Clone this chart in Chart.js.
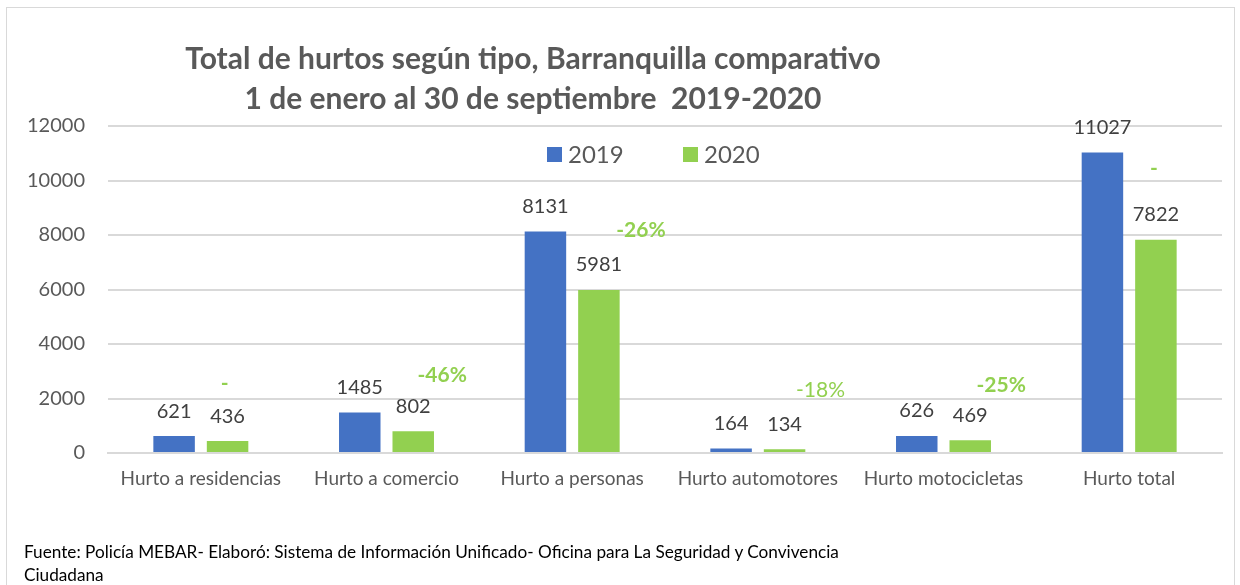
<!DOCTYPE html>
<html>
<head>
<meta charset="UTF-8">
<title>Hurtos Barranquilla</title>
<script src="https://cdn.jsdelivr.net/npm/chart.js"></script>
<style>
  html, body { margin: 0; padding: 0; background: #fff; }
  #box { position: absolute; left: 0; top: 0; width: 1240px; height: 585px; overflow: hidden; }
  #frame { position: absolute; left: 6px; top: 7px; width: 1229px; height: 600px; border: 1px solid #d9d9d9; box-sizing: border-box; }
  #ttl { position: absolute; left: 83px; width: 900px; top: 37px; text-align: center;
         font-family: Lato, sans-serif; font-weight: bold; font-size: 30px; line-height: 40px; color: #595959; }
  #src { position: absolute; left: 24px; top: 540px; font-family: Lato, sans-serif; font-size: 17.2px; line-height: 23px; color: #000; width: 850px; }
  #c { position: absolute; left: 0; top: 0; }
</style>
</head>
<body>
<div id="box">
  <div id="frame"></div>
  <canvas id="c" width="1240" height="585"></canvas>
  <div id="ttl">Total de hurtos según tipo, Barranquilla comparativo<br>1 de enero al 30 de septiembre&nbsp; 2019-2020</div>
  <div id="src">Fuente: Policía MEBAR- Elaboró: Sistema de Información Unificado- Oficina para La Seguridad y Convivencia<br>Ciudadana</div>
</div>
<script>
// data
const categories = ['Hurto a residencias', 'Hurto a comercio', 'Hurto a personas', 'Hurto automotores', 'Hurto motocicletas', 'Hurto total'];
const years = ['2019', '2020'];
const values2019 = [621, 1485, 8131, 164, 626, 11027];
const values2020 = [436, 802, 5981, 134, 469, 7822];
const changes = ['-', '-46%', '-26%', '-18%', '-25%', '-'];
const yTicks = [0, 2000, 4000, 6000, 8000, 10000, 12000];

const FONT = 'Lato, sans-serif';
const GREY = '#595959';
const BLUE = '#4472C4';
const GREEN = '#92D050';

// where the % notes sit (they were loose text boxes in the original)
// [dx from the 2020 bar in px, height in axis units, bold]
const noteSpots = [[-3, 2570, true], [29, 2860, true], [42, 8180, true], [36, 2310, false], [31, 2500, true], [-2, 10460, true]];

const barLabels = {
  id: 'barLabels',
  afterDatasetsDraw(chart) {
    const ctx = chart.ctx;
    ctx.save();
    ctx.textAlign = 'center';
    ctx.textBaseline = 'middle';
    ctx.font = '20px ' + FONT;
    ctx.fillStyle = '#404040';
    chart.data.datasets.forEach((ds, i) => {
      chart.getDatasetMeta(i).data.forEach((bar, j) => {
        ctx.fillText(String(ds.data[j]), bar.x, bar.y - 25);
      });
    });
    // % change notes
    const y = chart.scales.y;
    const greenBars = chart.getDatasetMeta(1).data;
    ctx.fillStyle = GREEN;
    changes.forEach((txt, j) => {
      const s = noteSpots[j];
      ctx.font = (s[2] ? 'bold ' : '') + '21px ' + FONT;
      ctx.fillText(txt, greenBars[j].x + s[0], y.getPixelForValue(s[1]));
    });
    // legend inside the plot
    ctx.textAlign = 'left';
    ctx.font = '24px ' + FONT;
    let x = 547;
    chart.data.datasets.forEach((ds) => {
      ctx.fillStyle = ds.backgroundColor;
      ctx.fillRect(x, 147, 15, 15);
      ctx.fillStyle = GREY;
      ctx.fillText(ds.label, x + 21, 155);
      x += 136;
    });
    ctx.restore();
  }
};

new Chart(document.getElementById('c'), {
  type: 'bar',
  data: {
    labels: categories,
    datasets: [
      { label: years[0], data: values2019, backgroundColor: BLUE },
      { label: years[1], data: values2020, backgroundColor: GREEN }
    ]
  },
  options: {
    responsive: false,
    animation: false,
    events: [],
    layout: { padding: { top: 126, right: 18, left: 0, bottom: 0 } },
    categoryPercentage: 0.576,
    barPercentage: 0.776,
    plugins: { legend: { display: false }, title: { display: false }, tooltip: { enabled: false } },
    scales: {
      x: {
        grid: { display: false, drawTicks: false },
        border: { display: true, color: '#d9d9d9', width: 2 },
        ticks: { color: GREY, font: { family: FONT, size: 19 }, padding: 14, maxRotation: 0, autoSkip: false },
        afterFit(axis) { axis.height = 132; }
      },
      y: {
        min: 0,
        max: 12000,
        afterBuildTicks(axis) { axis.ticks = yTicks.map(v => ({ value: v })); },
        grid: { color: '#d9d9d9', lineWidth: 2, drawTicks: false },
        border: { display: false },
        ticks: { color: GREY, font: { family: FONT, size: 20 }, padding: 23, callback: v => String(v) },
        afterFit(axis) { axis.width = 108; }
      }
    }
  },
  plugins: [barLabels]
});
</script>
</body>
</html>
